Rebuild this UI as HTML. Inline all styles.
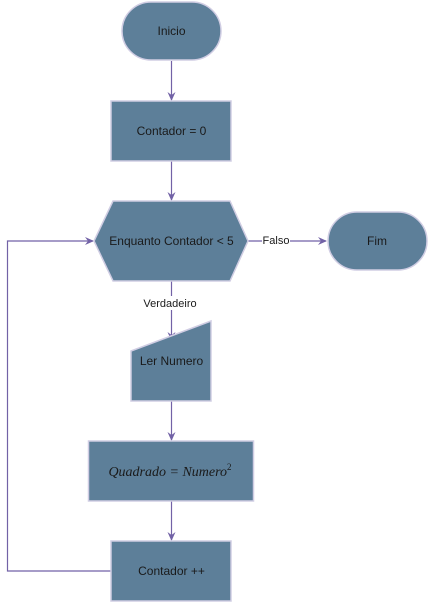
<!DOCTYPE html>
<html><head><style>body{margin:0;background:#fff}svg{display:block}</style></head><body>
<svg width="429" height="602" viewBox="0 0 429 602" xmlns="http://www.w3.org/2000/svg" font-family="Liberation Sans, sans-serif" font-size="12">
<defs><marker id="a" markerWidth="10" markerHeight="10" refX="8" refY="5" orient="auto" markerUnits="userSpaceOnUse"><path d="M0,1 L9,5 L0,9 L3,5 Z" fill="#7262a6"/></marker></defs>
<g stroke="#7262a6" stroke-width="1.2" fill="none">
<line x1="171.5" y1="61" x2="171.5" y2="100" marker-end="url(#a)"/>
<line x1="171.5" y1="161" x2="171.5" y2="200" marker-end="url(#a)"/>
<line x1="248" y1="241" x2="326" y2="241" marker-end="url(#a)"/>
<line x1="171.5" y1="281" x2="171.5" y2="340" marker-end="url(#a)"/>
<line x1="171.5" y1="401" x2="171.5" y2="440" marker-end="url(#a)"/>
<line x1="171.5" y1="501" x2="171.5" y2="540" marker-end="url(#a)"/>
<polyline points="111,571 7.5,571 7.5,241 93,241" marker-end="url(#a)"/>
</g>
<g fill="#5d7f99" stroke="#d0cde3" stroke-width="1.5">
<rect x="122" y="2" width="99" height="58" rx="29"/>
<rect x="111" y="101" width="120" height="60"/>
<polygon points="94,241 113,201 230,201 248,241 230,281 113,281"/>
<rect x="328" y="212" width="99" height="58" rx="29"/>
<polygon points="131,351 211,321 211,401 131,401"/>
<rect x="88.5" y="441" width="165" height="60"/>
<rect x="111" y="541" width="120" height="60"/>
</g>
<g fill="#1a1a1a" text-anchor="middle">
<text x="171.5" y="35">Inicio</text>
<text x="171.5" y="135">Contador = 0</text>
<text x="171.5" y="245">Enquanto Contador &lt; 5</text>
<text x="377" y="245">Fim</text>
<text x="171.5" y="365">Ler Numero</text>
<text x="171.5" y="575">Contador ++</text>
<text x="170" y="476" font-family="Liberation Serif, serif" font-style="italic" font-size="14">Quadrado = Numero<tspan font-size="9" dy="-6" font-style="normal">2</tspan></text>
</g>
<rect x="262" y="233" width="28" height="14" fill="#fff"/>
<text x="276" y="244" text-anchor="middle" font-size="11" fill="#1a1a1a">Falso</text>
<rect x="141" y="296" width="57" height="14" fill="#fff"/>
<text x="170" y="307" text-anchor="middle" font-size="11" fill="#1a1a1a">Verdadeiro</text>
</svg>
</body></html>
